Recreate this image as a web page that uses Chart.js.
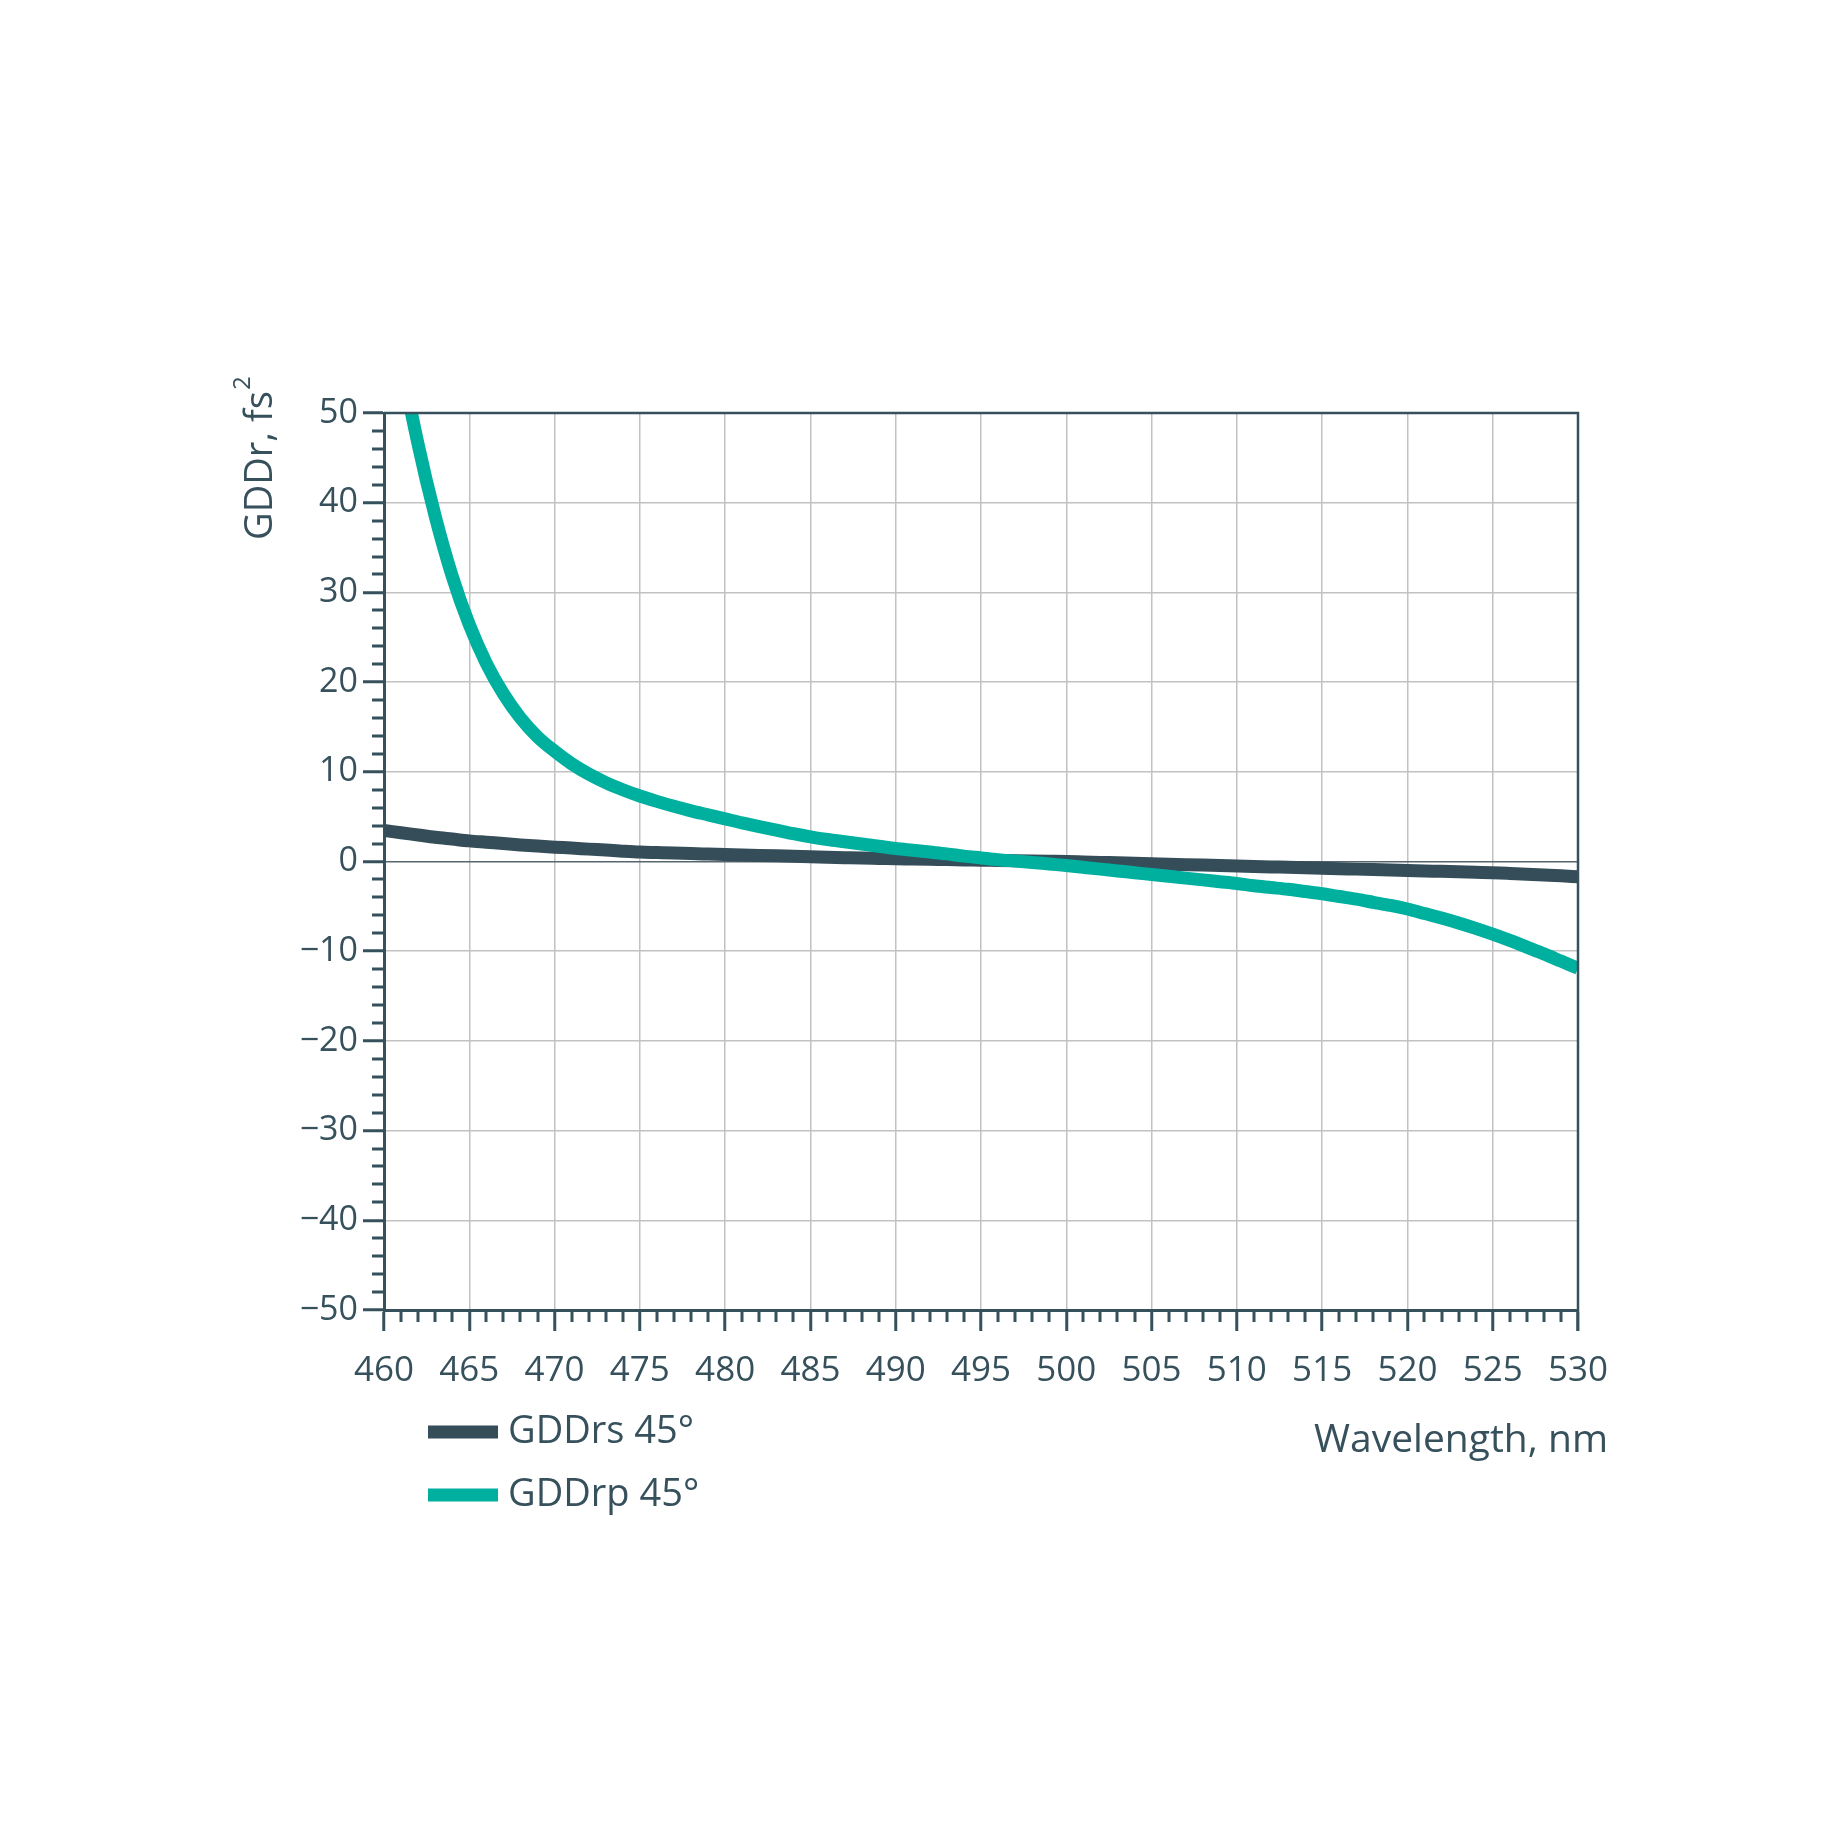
<!DOCTYPE html>
<html lang="en">
<head>
<meta charset="UTF-8">
<title>GDDr vs wavelength</title>
<script src="https://cdn.jsdelivr.net/npm/chart.js@4.4.1/dist/chart.umd.min.js"></script>
<style>
  html, body { margin: 0; padding: 0; background: #fff; }
  #gddChart { display: block; }
</style>
</head>
<body>
<canvas id="gddChart" width="1848" height="1848"></canvas>
<script>
// wavelength, nm
const wavelengths = [
  460, 461, 462, 463, 464, 465, 466, 467, 468, 469,
  470, 471, 472, 473, 474, 475, 476, 477, 478, 479,
  480, 481, 482, 483, 484, 485, 486, 487, 488, 489,
  490, 491, 492, 493, 494, 495, 496, 497, 498, 499,
  500, 501, 502, 503, 504, 505, 506, 507, 508, 509,
  510, 511, 512, 513, 514, 515, 516, 517, 518, 519,
  520, 521, 522, 523, 524, 525, 526, 527, 528, 529,
  530
];

// GDDrs 45°, fs^2
const gddRs = [
  3.45, 3.2, 2.95, 2.7, 2.5, 2.3, 2.15, 2.0, 1.85, 1.72,
  1.6, 1.5, 1.38, 1.27, 1.15, 1.05, 1.0, 0.95, 0.88, 0.83,
  0.78, 0.73, 0.68, 0.63, 0.58, 0.53, 0.48, 0.43, 0.38, 0.34,
  0.3, 0.27, 0.24, 0.21, 0.18, 0.15, 0.12, 0.09, 0.06, 0.03,
  0.0, -0.05, -0.1, -0.15, -0.2, -0.25, -0.3, -0.35, -0.4, -0.45,
  -0.5, -0.55, -0.6, -0.65, -0.7, -0.75, -0.8, -0.85, -0.9, -0.95,
  -1.0, -1.05, -1.1, -1.15, -1.2, -1.25, -1.33, -1.42, -1.51, -1.6,
  -1.7
];

// GDDrp 45°, fs^2 (first two points run off the top of the plot)
const gddRp = [
  68, 56, 46.5, 38.5, 31.8, 26.4, 22.1, 18.7, 16.0, 13.9,
  12.3, 10.9, 9.75, 8.8, 8.0, 7.3, 6.7, 6.15, 5.65, 5.2,
  4.75, 4.3, 3.9, 3.5, 3.1, 2.75, 2.45, 2.2, 1.95, 1.7,
  1.45, 1.25, 1.05, 0.85, 0.6, 0.4, 0.2, 0.05, -0.1, -0.28,
  -0.45, -0.65, -0.85, -1.05, -1.25, -1.45, -1.65, -1.85, -2.05, -2.25,
  -2.45, -2.7, -2.9, -3.1, -3.35, -3.6, -3.9, -4.2, -4.55, -4.9,
  -5.3, -5.8, -6.3, -6.85, -7.45, -8.1, -8.8, -9.55, -10.3, -11.1,
  -11.9
];

const xTicks = [460, 465, 470, 475, 480, 485, 490, 495, 500, 505, 510, 515, 520, 525, 530];
const yTicks = [-50, -40, -30, -20, -10, 0, 10, 20, 30, 40, 50];
const seriesLabels = ['GDDrs 45°', 'GDDrp 45°'];

const ink = '#36505c';
const darkLine = '#344d59';
const tealLine = '#00b09f';
const gridGrey = '#c2c2c2';
const fontFamily = '"Open Sans", "Noto Sans", sans-serif';

const toPoints = (ys) => ys.map((v, i) => ({ x: wavelengths[i], y: v }));

// minor ticks, top/right frame, y title with superscript, legend and x title
const extras = {
  id: 'extras',
  afterDraw(chart) {
    const { ctx, chartArea: a, scales: { x, y } } = chart;
    ctx.save();
    ctx.strokeStyle = ink;
    ctx.lineWidth = 3;
    ctx.beginPath();
    for (let v = xTicks[0]; v <= xTicks[xTicks.length - 1]; v++) {
      if (v % 5 === 0) continue;
      const px = Math.round(x.getPixelForValue(v));
      ctx.moveTo(px, a.bottom);
      ctx.lineTo(px, a.bottom + 12);
    }
    for (let v = yTicks[0]; v <= yTicks[yTicks.length - 1]; v += 2) {
      if (v % 10 === 0) continue;
      const py = Math.round(y.getPixelForValue(v));
      ctx.moveTo(a.left - 12, py);
      ctx.lineTo(a.left, py);
    }
    ctx.stroke();

    ctx.lineWidth = 2.5;
    ctx.beginPath();
    ctx.moveTo(a.left, a.top);
    ctx.lineTo(a.right, a.top);
    ctx.lineTo(a.right, a.bottom + 21);
    ctx.stroke();

    // y title: GDDr, fs²
    ctx.fillStyle = ink;
    ctx.save();
    ctx.translate(a.left - 112, a.top + 127);
    ctx.rotate(-Math.PI / 2);
    ctx.textAlign = 'left';
    ctx.textBaseline = 'alphabetic';
    ctx.font = '38px ' + fontFamily;
    ctx.fillText('GDDr, fs', 0, 0);
    const w = ctx.measureText('GDDr, fs').width;
    ctx.font = '24px ' + fontFamily;
    ctx.fillText('2', w + 1, -22);
    ctx.restore();

    ctx.font = '38px ' + fontFamily;
    ctx.textBaseline = 'middle';
    chart.data.datasets.forEach((ds, i) => {
      const cy = a.bottom + 122 + i * 63;
      ctx.fillStyle = ds.borderColor;
      ctx.fillRect(a.left + 44, cy - 6.5, 70, 13);
      ctx.fillStyle = ink;
      ctx.textAlign = 'left';
      ctx.fillText(ds.label, a.left + 124, cy);
    });

    ctx.textAlign = 'right';
    ctx.textBaseline = 'alphabetic';
    ctx.font = '39px ' + fontFamily;
    ctx.fillText('Wavelength, nm', a.right + 30, a.bottom + 142);
    ctx.restore();
  }
};

new Chart(document.getElementById('gddChart'), {
  type: 'line',
  data: {
    datasets: [
      {
        label: seriesLabels[0],
        data: toPoints(gddRs),
        borderColor: darkLine,
        backgroundColor: darkLine,
        borderWidth: 13,
        pointRadius: 0,
        cubicInterpolationMode: 'monotone',
        order: 2,
      },
      {
        label: seriesLabels[1],
        data: toPoints(gddRp),
        borderColor: tealLine,
        backgroundColor: tealLine,
        borderWidth: 13,
        pointRadius: 0,
        cubicInterpolationMode: 'monotone',
        order: 1,
      },
    ],
  },
  options: {
    responsive: false,
    animation: false,
    devicePixelRatio: 1,
    layout: { padding: { left: 234, top: 413, right: 270, bottom: 438 } },
    plugins: { legend: { display: false }, tooltip: { enabled: false } },
    scales: {
      x: {
        type: 'linear',
        min: 460,
        max: 530,
        afterBuildTicks: (scale) => { scale.ticks = xTicks.map(v => ({ value: v })); },
        afterFit: (scale) => { scale.height = 100; },
        grid: { color: gridGrey, lineWidth: 1.5, tickColor: ink, tickWidth: 3, tickLength: 21 },
        border: { color: ink, width: 3 },
        ticks: { color: ink, padding: 19, font: { family: fontFamily, size: 35 } },
      },
      y: {
        min: -50,
        max: 50,
        afterBuildTicks: (scale) => { scale.ticks = yTicks.map(v => ({ value: v })); },
        afterFit: (scale) => { scale.width = 150; },
        grid: {
          color: (c) => (c.tick && c.tick.value === 0 ? '#56666e' : gridGrey),
          lineWidth: 1.5,
          tickColor: ink,
          tickWidth: 3,
          tickLength: 21,
        },
        border: { color: ink, width: 3 },
        ticks: {
          color: ink,
          padding: 5,
          font: { family: fontFamily, size: 34 },
          callback: (v) => (v < 0 ? '\u2212' + Math.abs(v) : String(v)),
        },
      },
    },
  },
  plugins: [extras],
});
</script>
</body>
</html>
